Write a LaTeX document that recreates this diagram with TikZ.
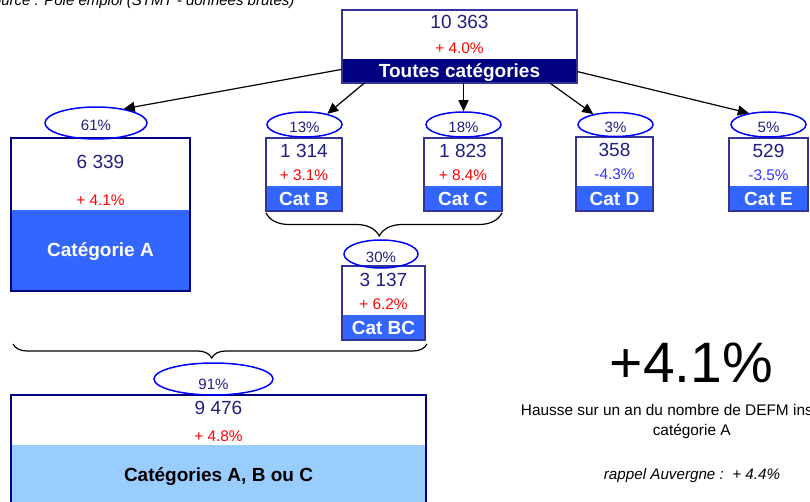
\documentclass[tikz,border=0pt]{standalone}
\usepackage{fontspec}
\setmainfont{Liberation Sans}
\usetikzlibrary{arrows.meta,decorations.pathreplacing,shapes.geometric}
\definecolor{navytxt}{HTML}{1F1F80}
\definecolor{frame}{HTML}{333399}
\definecolor{darkframe}{HTML}{000080}
\definecolor{bandnavy}{HTML}{000080}
\definecolor{bandblue}{HTML}{3366FF}
\definecolor{bandlight}{HTML}{99CCFF}
\definecolor{oval}{HTML}{0000FF}
\definecolor{minus}{HTML}{3333FF}
\tikzset{
  catbox/.style 2 args={draw=frame,line width=2pt,inner sep=0pt,outer sep=0pt,
    path picture={\fill[#1] (path picture bounding box.south west)
      rectangle ([yshift=#2]path picture bounding box.south east);}},
  share/.style={ellipse,draw=oval,line width=1.5pt,inner sep=0pt,text=navytxt,
    font=\fontsize{15}{15}\selectfont,text height=16pt,text depth=0pt},
  count/.style={text=navytxt,font=\fontsize{19}{19}\selectfont,inner sep=0pt,
    text height=13.6pt,text depth=0pt},
  rise/.style={text=red,font=\fontsize{15.4}{15.4}\selectfont,inner sep=0pt,
    text height=11pt,text depth=0pt},
  fall/.style={rise,text=minus},
  tag/.style={text=white,font=\bfseries\fontsize{19}{19}\selectfont,inner sep=0pt,
    text height=13.6pt,text depth=0pt},
  brc/.style={decorate,decoration={brace,mirror,amplitude=#1,aspect=0.48},line width=1.2pt}
}
\begin{document}
\begin{tikzpicture}[x=1pt,y=1pt]
      \useasboundingbox (0,0) rectangle (810,501);
      \clip (0,0) rectangle (810,501);
      \node[catbox={bandnavy}{24pt},minimum width=235pt,minimum height=73pt] (all) at (459.5,454.5) {};
      \node[catbox={bandblue}{81pt},draw=darkframe,minimum width=179pt,minimum height=153pt] (A) at (100.5,286.5) {};
      \node[catbox={bandblue}{25pt},minimum width=76pt,minimum height=73pt] (B) at (304,326.5) {};
      \node[catbox={bandblue}{25pt},minimum width=78pt,minimum height=73pt] (C) at (463,326.5) {};
      \node[catbox={bandblue}{25pt},minimum width=77pt,minimum height=74pt] (D) at (614.5,326.5) {};
      \node[catbox={bandblue}{25pt},minimum width=79pt,minimum height=73pt] (E) at (768.5,326.5) {};
      \node[catbox={bandblue}{25pt},minimum width=83pt,minimum height=74pt] (BC) at (383.5,198) {};
      \node[catbox={bandlight}{58pt},draw=darkframe,minimum width=415pt,minimum height=108pt] (ABC) at (218.5,52) {};
      \node[share,minimum width=102pt,minimum height=32pt] (pA) at (96,378) {61\%};
      \node[share,minimum width=75pt,minimum height=25pt] (pB) at (304.5,376.5) {13\%};
      \node[share,minimum width=75pt,minimum height=25pt] (pC) at (463.5,376.5) {18\%};
      \node[share,minimum width=75pt,minimum height=24pt] (pD) at (615.5,376.5) {3\%};
      \node[share,minimum width=75pt,minimum height=25pt] (pE) at (768.5,376.5) {5\%};
      \node[share,minimum width=74pt,minimum height=28pt] (pBC) at (381,247) {30\%};
      \node[share,minimum width=119pt,minimum height=32pt,text height=20pt] (pABC) at (213.5,122) {91\%};
      \node[count] at ([yshift=-12.2pt]all.north) {10 363};
      \node[rise] at ([yshift=-37.8pt]all.north) {+ 4.0\%};
      \node[tag] at ([yshift=11.8pt]all.south) {Toutes catégories};
      \node[count] at ([yshift=-23.3pt]A.north) {6 339};
      \node[rise] at ([yshift=-61.7pt]A.north) {+ 4.1\%};
      \node[tag] at ([yshift=41pt]A.south) {Catégorie A};
      \node[count] at ([yshift=-12.5pt]B.north) {1 314};
      \node[rise] at ([yshift=-37pt]B.north) {+ 3.1\%};
      \node[tag] at ([yshift=12.5pt]B.south) {Cat B};
      \node[count] at ([yshift=-12.5pt]C.north) {1 823};
      \node[rise] at ([yshift=-37pt]C.north) {+ 8.4\%};
      \node[tag] at ([yshift=12.5pt]C.south) {Cat C};
      \node[count] at ([yshift=-12.5pt]D.north) {358};
      \node[fall] at ([yshift=-37pt]D.north) {-4.3\%};
      \node[tag] at ([yshift=12.5pt]D.south) {Cat D};
      \node[count] at ([yshift=-12.5pt]E.north) {529};
      \node[fall] at ([yshift=-37pt]E.north) {-3.5\%};
      \node[tag] at ([yshift=12.5pt]E.south) {Cat E};
      \node[count] at ([yshift=-13.7pt]BC.north) {3 137};
      \node[rise] at ([yshift=-38.2pt]BC.north) {+ 6.2\%};
      \node[tag] at ([yshift=12.7pt]BC.south) {Cat BC};
      \node[count] at ([yshift=-12.7pt]ABC.north) {9 476};
      \node[rise] at ([yshift=-40.5pt]ABC.north) {+ 4.8\%};
      \node[tag,text=black] at ([yshift=28.5pt]ABC.south) {Catégories A, B ou C};
      \begin{scope}[-{Triangle[length=11pt,width=10pt]},line width=1.2pt]
        \draw (all.191.8) -- (pA.27);
        \draw (all.201.1) -- (pB.25);
        \draw (pC.north |- all.south) -- (pC.north);
        \draw (all.338.7) -- (pD.155);
        \draw (all.348.2) -- (pE.150);
      \end{scope}
      \draw[brc=23pt] ([yshift=-2pt]B.south west) -- ([yshift=-2pt]C.south east);
      \draw[brc=14pt] ([shift={(2pt,-4pt)}]A.west |- BC.south) -- ([shift={(2pt,-4pt)}]BC.south east);
      \node[font=\itshape\fontsize{15}{15}\selectfont,anchor=base east] (src) at (298,495)
        {Source : Pôle emploi (STMT - données brutes)};
      \node[font=\fontsize{57}{57}\selectfont,anchor=base] (big) at (691.5,119) {+4.1\%};
      \node[font=\fontsize{15.4}{20}\selectfont,align=center,anchor=north,inner sep=0pt] (note) at (691.7,97.2)
        {Hausse sur un an du nombre de DEFM inscrits en\\catégorie A};
      \node[font=\itshape\fontsize{15.2}{18}\selectfont,anchor=base] (ref) at (692,22)
        {rappel Auvergne :\ \ + 4.4\%};
    \end{tikzpicture}
\end{document}
